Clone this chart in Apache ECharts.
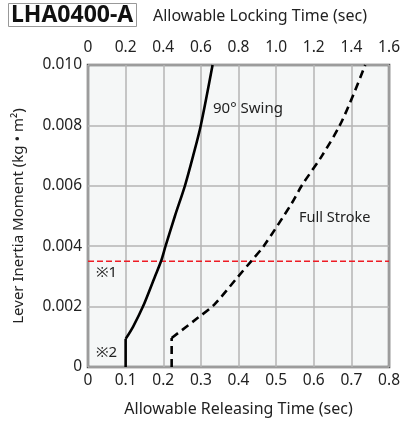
<!DOCTYPE html>
<html>
<head>
<meta charset="utf-8">
<style>
  html, body { margin: 0; padding: 0; background: #fff; }
  #chart { width: 403px; height: 423px; }
</style>
<script src="https://cdn.jsdelivr.net/npm/echarts@6/dist/echarts.min.js"></script>
</head>
<body>
<div id="chart"></div>
<script>
// Axis ranges and tick labels
const releasingTicks = ['0', '0.1', '0.2', '0.3', '0.4', '0.5', '0.6', '0.7', '0.8'];
const lockingTicks = ['0', '0.2', '0.4', '0.6', '0.8', '1.0', '1.2', '1.4', '1.6'];
const inertiaTicks = ['0', '0.002', '0.004', '0.006', '0.008', '0.010'];

// 90° swing: [releasing time (sec), lever inertia moment (kg·m²)]
const swingStem = [[0.1, 0], [0.1, 0.00093]];
const swingCurve = [
  [0.1, 0.00093], [0.12, 0.00134], [0.146, 0.002], [0.178, 0.003], [0.194, 0.0035],
  [0.206, 0.004], [0.231, 0.005], [0.2575, 0.006], [0.2795, 0.007], [0.2997, 0.008],
  [0.331, 0.010]
];

// Full stroke
const strokeStem = [[0.2223, 0], [0.2223, 0.00096]];
const strokeCurve = [
  [0.2223, 0.00096], [0.291, 0.00162], [0.335, 0.00206], [0.398, 0.00298],
  [0.4333, 0.0035], [0.4667, 0.004], [0.5414, 0.00542], [0.5677, 0.006],
  [0.622, 0.007], [0.669, 0.008], [0.7066, 0.00906], [0.7366, 0.010]
];

// ※1 reference level
const limitInertia = 0.0035;

const FONT = '"Noto Sans", sans-serif';
const chart = echarts.init(document.getElementById('chart'), null, { renderer: 'canvas' });

const solidStyle = { color: '#000', width: 2.6, type: 'solid' };
const dashStyle = { color: '#000', width: 2.6, type: [8, 5] };

function lineSeries(data, style, smooth) {
  return {
    type: 'line', data: data, xAxisIndex: 0, yAxisIndex: 0,
    symbol: 'none', smooth: smooth, lineStyle: style, silent: true, z: 5
  };
}

chart.setOption({
  animation: false,
  backgroundColor: '#fff',
  textStyle: { fontFamily: FONT },
  title: {
    text: 'LHA0400-A',
    left: 8, top: 3,
    padding: [1, 3, 0, 3],
    borderColor: '#999', borderWidth: 1,
    textStyle: { fontFamily: FONT, fontWeight: 'bold', fontSize: 23, color: '#111' }
  },
  grid: {
    left: 88, right: 12, top: 65, bottom: 56,
    show: true, backgroundColor: '#f5f7f7', borderColor: '#555', borderWidth: 2.5, z: 0
  },
  xAxis: [
    {
      type: 'value', position: 'bottom', min: 0, max: 0.8, interval: 0.1,
      name: 'Allowable Releasing Time (sec)', nameLocation: 'middle', nameGap: 34,
      nameTextStyle: { fontFamily: FONT, fontSize: 16, color: '#222' },
      axisLine: { show: false }, axisTick: { show: false },
      axisLabel: { margin: 6, fontFamily: FONT, fontSize: 15.5, color: '#222',
        formatter: (v) => releasingTicks[Math.round(v * 10)] },
      splitLine: { show: true, lineStyle: { color: '#b4b4b4', width: 1.5 } }
    },
    {
      type: 'value', position: 'top', min: 0, max: 1.6, interval: 0.2,
      axisLine: { show: false }, axisTick: { show: false },
      axisLabel: { margin: 9, fontFamily: FONT, fontSize: 15.5, color: '#222',
        formatter: (v) => lockingTicks[Math.round(v * 5)] },
      splitLine: { show: false }
    }
  ],
  yAxis: {
    type: 'value', min: 0, max: 0.010, interval: 0.002,
    name: 'Lever Inertia Moment (kg \u2022 m\u00B2)', nameLocation: 'middle', nameGap: 62,
    nameTextStyle: { fontFamily: FONT, fontSize: 15, color: '#222' },
    axisLine: { show: false }, axisTick: { show: false },
    axisLabel: { margin: 6, fontFamily: FONT, fontSize: 15.5, color: '#222',
      formatter: (v) => inertiaTicks[Math.round(v * 500)] },
    splitLine: { show: true, lineStyle: { color: '#b4b4b4', width: 1.5 } }
  },
  graphic: [
    { type: 'text', left: 153, top: 8,
      style: { text: 'Allowable Locking Time (sec)', font: '16px ' + FONT, fill: '#222' } },
    { type: 'text', left: 213, top: 101, z: 10,
      style: { text: '90° Swing', font: '15px ' + FONT, fill: '#222' } },
    { type: 'text', left: 299, top: 210, z: 10,
      style: { text: 'Full Stroke', font: '14.5px ' + FONT, fill: '#222' } },
    { type: 'text', left: 96, top: 265, z: 10,
      style: { text: '※1', font: '15px ' + FONT, fill: '#222' } },
    { type: 'text', left: 96, top: 345, z: 10,
      style: { text: '※2', font: '15px ' + FONT, fill: '#222' } }
  ],
  series: [
    {
      type: 'line', data: [[0, limitInertia], [0.8, limitInertia]],
      symbol: 'none', silent: true, z: 3,
      lineStyle: { color: '#ee1c25', width: 1.4, type: [6, 3] }
    },
    lineSeries(swingStem, solidStyle, false),
    lineSeries(swingCurve, solidStyle, 0.3),
    lineSeries(strokeStem, dashStyle, false),
    lineSeries(strokeCurve, dashStyle, 0.3)
  ]
});
</script>
</body>
</html>
